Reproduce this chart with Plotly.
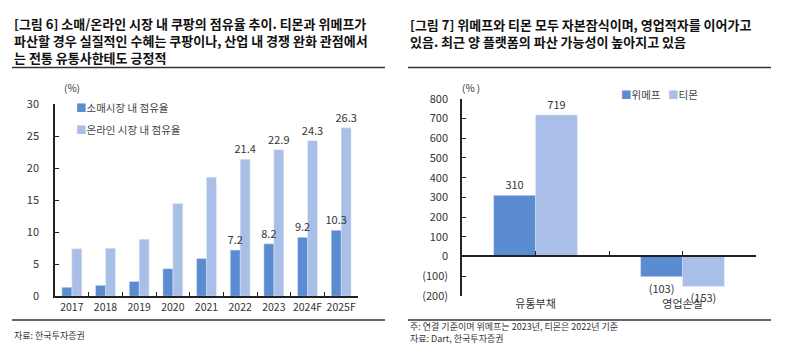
import plotly.graph_objects as go

# ---------------- data ----------------
years = ["2017", "2018", "2019", "2020", "2021", "2022", "2023", "2024F", "2025F"]
retail_share = [1.4, 1.7, 2.3, 4.3, 5.9, 7.2, 8.2, 9.2, 10.3]
online_share = [7.4, 7.5, 8.9, 14.5, 18.6, 21.4, 22.9, 24.3, 26.3]
labelled_from = 5  # labels shown from 2022 onwards
series1_names = ["소매시장 내 점유율", "온라인 시장 내 점유율"]

cats2 = ["유통부채", "영업손실"]
wemakeprice = [310, -103]
tmon = [719, -153]
series2_names = ["위메프", "티몬"]
y2_ticks = [-200, -100, 0, 100, 200, 300, 400, 500, 600, 700, 800]

title1 = ["[그림 6] 소매/온라인 시장 내 쿠팡의 점유율 추이. 티몬과 위메프가",
          "파산할 경우 실질적인 수혜는 쿠팡이나, 산업 내 경쟁 완화 관점에서",
          "는 전통 유통사한테도 긍정적"]
title2 = ["[그림 7] 위메프와 티몬 모두 자본잠식이며, 영업적자를 이어가고",
          "있음. 최근 양 플랫폼의 파산 가능성이 높아지고 있음"]

# page is 799x356; the default 8px body margin surrounds the figure
PAGE_M = 8
W, H = 799 - 2 * PAGE_M, 356 - 2 * PAGE_M
FONT = "Noto Sans CJK KR"
C_DARK = "#5b8bd0"
C_LIGHT = "#aabfe8"
TXT = "#333333"
BW1 = 0.295   # bar width (category units), left chart
BW2 = 0.285   # bar width, right chart

# page-layout rules (decoration, in page pixels): (x0, x1, y)
RULES = [(12, 385, 61), (12, 385, 326), (408, 771, 61), (408, 771, 326)]


def px_x(p):
    return (p - PAGE_M) / W


def px_y(p):
    return 1 - (p - PAGE_M) / H


def fmt_paren(v):
    return f"({abs(v):g})" if v < 0 else f"{v:g}"


retail_text = [f"{v:g}" if i >= labelled_from else "" for i, v in enumerate(retail_share)]
online_text = [f"{v:g}" if i >= labelled_from else "" for i, v in enumerate(online_share)]

lblfont = dict(size=11, color=TXT, family=FONT)
fig = go.Figure()

# ---- left chart (online drawn first so the retail labels sit on top) ----
fig.add_trace(go.Bar(x=years, y=online_share, marker_color=C_LIGHT, text=online_text,
                     offset=0, width=BW1,
                     textposition="outside", cliponaxis=False, constraintext="none",
                     textfont=lblfont, xaxis="x", yaxis="y", showlegend=False,
                     name=series1_names[1]))
fig.add_trace(go.Bar(x=years, y=retail_share, marker_color=C_DARK, text=retail_text,
                     offset=-BW1, width=BW1,
                     textposition="outside", cliponaxis=False, constraintext="none",
                     textfont=lblfont, xaxis="x", yaxis="y", showlegend=False,
                     name=series1_names[0]))

# ---- right chart ----
fig.add_trace(go.Bar(x=cats2, y=tmon, marker_color=C_LIGHT, offset=0, width=BW2,
                     text=[fmt_paren(v) for v in tmon], textposition="outside",
                     cliponaxis=False, constraintext="none", textfont=lblfont,
                     xaxis="x2", yaxis="y2", showlegend=False, name=series2_names[1]))
fig.add_trace(go.Bar(x=cats2, y=wemakeprice, marker_color=C_DARK, offset=-BW2, width=BW2,
                     text=[fmt_paren(v) for v in wemakeprice], textposition="outside",
                     cliponaxis=False, constraintext="none", textfont=lblfont,
                     xaxis="x2", yaxis="y2", showlegend=False, name=series2_names[0]))
# invisible carrier for the zero-line axis
fig.add_trace(go.Scatter(x=[None], y=[None], mode="markers", showlegend=False,
                         xaxis="x3", yaxis="y2", hoverinfo="skip"))

# page rules drawn on a full-page, hidden overlay subplot
rx, ry = [], []
for x0, x1, yy in RULES:
    rx += [x0, x1, None]
    ry += [yy, yy, None]
fig.add_trace(go.Scatter(x=rx, y=ry, mode="lines", line=dict(color="#333", width=1.5),
                         showlegend=False, hoverinfo="skip", xaxis="x4", yaxis="y4",
                         cliponaxis=False))

tickfont = dict(size=11, color=TXT, family=FONT)

fig.update_layout(
    width=W, height=H, margin=dict(l=0, r=0, t=0, b=0),
    paper_bgcolor="white", plot_bgcolor="rgba(0,0,0,0)",
    font=dict(family=FONT, color=TXT),
    barmode="overlay",
    xaxis=dict(domain=[px_x(55), px_x(358)], anchor="y", type="category",
               showline=True, linecolor="#222", linewidth=1.5,
               ticks="inside", ticklen=4, tickcolor="#222", tickson="boundaries",
               tickfont=dict(size=10.5, color=TXT, family=FONT), tickangle=0,
               showgrid=False),
    yaxis=dict(domain=[px_y(301), px_y(99.5)], anchor="x", range=[0, 30],
               tickvals=[0, 5, 10, 15, 20, 25, 30],
               showline=True, linecolor="#222", linewidth=1.5,
               ticks="inside", ticklen=4, tickcolor="#222",
               tickfont=tickfont, showgrid=False, zeroline=False, ticklabelstandoff=12),
    xaxis2=dict(domain=[px_x(462), px_x(756)], anchor="y2", type="category",
                showline=False, ticks="", tickfont=tickfont, showgrid=False),
    xaxis3=dict(overlaying="x2", anchor="free", position=px_y(259), range=[-0.5, 1.5],
                tickvals=[0, 0.5, 1, 1.5], showticklabels=False,
                showline=True, linecolor="#222", linewidth=1.5,
                ticks="inside", ticklen=4, tickcolor="#222", showgrid=False, zeroline=False),
    yaxis2=dict(domain=[px_y(300.5), px_y(94)], anchor="x2", range=[-200, 800],
                tickvals=y2_ticks, ticktext=[fmt_paren(v) for v in y2_ticks],
                showline=True, linecolor="#222", linewidth=1.5,
                ticks="inside", ticklen=4, tickcolor="#222",
                tickfont=tickfont, showgrid=False, zeroline=False, ticklabelstandoff=10),
    xaxis4=dict(domain=[0, 1], anchor="y4", range=[PAGE_M, PAGE_M + W], visible=False,
                fixedrange=True),
    yaxis4=dict(domain=[0, 1], anchor="x4", range=[PAGE_M + H, PAGE_M], visible=False,
                fixedrange=True),
)

ann = [
    dict(text="<br>".join(f"<b>{t}</b>" for t in title1), x=px_x(12), y=px_y(32.5),
         xanchor="left", yanchor="middle", align="left",
         font=dict(size=13, color="#111", family=FONT)),
    dict(text="<br>".join(f"<b>{t}</b>" for t in title2), x=px_x(408), y=px_y(25),
         xanchor="left", yanchor="middle", align="left",
         font=dict(size=13, color="#111", family=FONT)),
]

# legends as coloured squares + text
legfont = dict(size=10.5, color="#444", family=FONT)
for i, (name, col) in enumerate(zip(series1_names, [C_DARK, C_LIGHT])):
    ann.append(dict(text=f"<span style='color:{col}'>■</span>{name}",
                    x=px_x(74), y=px_y(103 + 23 * i), xanchor="left", yanchor="middle",
                    font=legfont))
leg2_x = [619, 666]
for i, (name, col) in enumerate(zip(series2_names, [C_DARK, C_LIGHT])):
    ann.append(dict(text=f"<span style='color:{col}'>■</span>{name}",
                    x=px_x(leg2_x[i]), y=px_y(89), xanchor="left", yanchor="middle",
                    font=legfont))

ann += [
    dict(text="(%)", x=px_x(62), y=px_y(82), xanchor="left", yanchor="middle",
         font=dict(size=10, color=TXT, family=FONT)),
    dict(text="(% )", x=px_x(460), y=px_y(82), xanchor="left", yanchor="middle",
         font=dict(size=10, color=TXT, family=FONT)),
    dict(text="자료: 한국투자증권", x=px_x(12), y=px_y(342), xanchor="left", yanchor="middle",
         font=dict(size=9, color=TXT, family=FONT)),
    dict(text="주: 연결 기준이며 위메프는 2023년, 티몬은 2022년 기준<br>자료: Dart, 한국투자증권",
         x=px_x(408), y=px_y(339.5), xanchor="left", yanchor="middle", align="left",
         font=dict(size=9, color=TXT, family=FONT)),
]

for a in ann:
    a.update(xref="paper", yref="paper", showarrow=False)
fig.update_layout(annotations=ann)

fig.write_html("out.html", config={"displayModeBar": False})
